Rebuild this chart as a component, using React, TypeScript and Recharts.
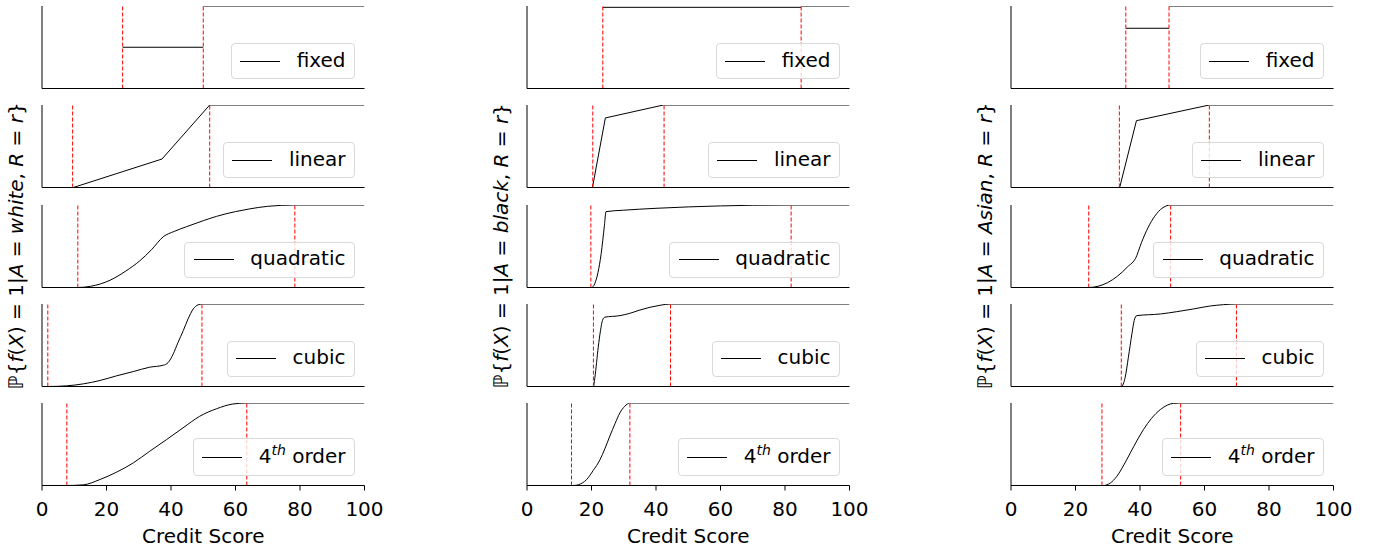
import React from 'react';
import { LineChart, Line, XAxis, YAxis, ReferenceLine, Label } from 'recharts';

const FONT = '"DejaVu Sans", Verdana, sans-serif';

const groups = ['white', 'black', 'Asian'];
const methods = ['fixed', 'linear', 'quadratic', 'cubic', '4th order'];
const xTicks = [0, 20, 40, 60, 80, 100];

// [credit score, probability]; null breaks the line
const whiteFixed = [[0, 0], [25, 0], [25, null], [25, 0.5], [50, 0.5], [50, null], [50, 1], [100, 1]];
const whiteLinear = [[0, 0], [9.7, 0], [37.2, 0.345], [52, 1], [100, 1]];
const whiteQuadratic = [[0, 0], [11.1, 0], [15, 0.014], [21.1, 0.088], [26, 0.2], [30.3, 0.323], [34, 0.46], [37.6, 0.615], [41, 0.68], [44.8, 0.737], [50, 0.81], [54.1, 0.862], [60, 0.92], [64.4, 0.953], [70, 0.984], [78.4, 1], [100, 1]];
const whiteCubic = [[0, 0], [1.8, 0], [7.6, 0.008], [12.8, 0.032], [18, 0.073], [23.1, 0.129], [28.3, 0.181], [33.4, 0.234], [37.6, 0.258], [39.1, 0.29], [40.7, 0.395], [42.2, 0.536], [43.8, 0.677], [45.3, 0.82], [46.9, 0.94], [48.4, 0.99], [49.6, 1], [100, 1]];
const whiteFourth = [[0, 0], [7.7, 0], [12.8, 0.008], [18, 0.073], [23.1, 0.161], [28.3, 0.274], [33.4, 0.415], [38.6, 0.556], [43.7, 0.698], [48.9, 0.839], [54.1, 0.93], [59.2, 0.988], [63.5, 1], [100, 1]];

const blackFixed = [[0, 0], [23.5, 0], [23.5, null], [23.5, 0.984], [85, 0.984], [85, null], [85, 1], [100, 1]];
const blackLinear = [[0, 0], [20.3, 0], [24.3, 0.843], [42.3, 1], [100, 1]];
const blackQuadratic = [[0, 0], [20, 0], [21, 0.045], [22, 0.18], [23, 0.41], [24, 0.75], [24.5, 0.92], [30, 0.937], [40, 0.96], [50, 0.977], [60, 0.989], [70, 0.997], [82, 1], [100, 1]];
const blackCubic = [[0, 0], [20.6, 0], [21.05, 0.11], [22.1, 0.48], [22.8, 0.68], [23.4, 0.8], [24.1, 0.84], [28.8, 0.859], [31.9, 0.887], [35, 0.927], [38.1, 0.96], [41.2, 0.984], [44.5, 1], [100, 1]];
const blackFourth = [[0, 0], [14.5, 0], [16, 0.01], [18.5, 0.073], [20.5, 0.18], [22.6, 0.31], [24.2, 0.45], [25.7, 0.6], [27.3, 0.75], [28.8, 0.88], [30.3, 0.96], [31.9, 1], [100, 1]];

const asianFixed = [[0, 0], [35.6, 0], [35.6, null], [35.6, 0.73], [49, 0.73], [49, null], [49, 1], [100, 1]];
const asianLinear = [[0, 0], [33.7, 0], [38.9, 0.81], [61.5, 1], [100, 1]];
const asianQuadratic = [[0, 0], [24.1, 0], [27, 0.015], [30, 0.06], [33, 0.137], [36, 0.245], [39, 0.385], [40, 0.496], [41, 0.597], [42.1, 0.694], [44, 0.831], [46.3, 0.943], [48, 0.987], [49.5, 1], [100, 1]];
const asianCubic = [[0, 0], [34.2, 0], [35.4, 0.11], [36.4, 0.355], [37.5, 0.64], [38.2, 0.8], [39, 0.859], [46.3, 0.879], [51.4, 0.907], [56.6, 0.94], [61.8, 0.976], [65.9, 0.992], [69.9, 1], [100, 1]];
const asianFourth = [[0, 0], [28.7, 0], [30.8, 0.03], [32.8, 0.11], [35, 0.25], [37, 0.395], [39, 0.54], [41.1, 0.68], [43.5, 0.81], [46.3, 0.92], [48.5, 0.975], [50.4, 0.996], [52.6, 1], [100, 1]];

// red dashed thresholds per method
const whiteThresholds = [[25, 50], [9.5, 52], [11.1, 78.4], [1.8, 49.6], [7.7, 63.5]];
const blackThresholds = [[23.5, 85], [20.4, 42.5], [19.8, 81.9], [20.6, 44.5], [13.8, 31.9]];
const asianThresholds = [[35.6, 49], [33.6, 61.5], [24.1, 49.5], [34.2, 69.9], [28.2, 52.6]];

const curves = [
  [whiteFixed, whiteLinear, whiteQuadratic, whiteCubic, whiteFourth],
  [blackFixed, blackLinear, blackQuadratic, blackCubic, blackFourth],
  [asianFixed, asianLinear, asianQuadratic, asianCubic, asianFourth],
];
const thresholds = [whiteThresholds, blackThresholds, asianThresholds];
const curveTypes = ['linear', 'linear', 'monotone', 'monotone', 'monotone'];

// layout
const PLOT_LEFT = [42, 527, 1011];
const PLOT_W = 322.5;
const PLOT_H = 82.5;
const rowTop = (r: number) => 6 + 99.3 * r;

const toRows = (pts: (number | null)[][]) => pts.map(([x, y]) => ({ x, y }));

function LegendBox({ method, right, bottom }: { method: string; right: number; bottom: number }) {
  const isFourth = method === '4th order';
  return (
    <div
      style={{
        position: 'absolute',
        right,
        bottom,
        height: isFourth ? 38 : 36,
        display: 'flex',
        alignItems: 'center',
        padding: '0 8px 3px 8.5px',
        border: '1px solid #d9d9d9',
        borderRadius: 4,
        background: 'rgba(255,255,255,0.8)',
        boxSizing: 'border-box',
        fontFamily: FONT,
        fontSize: 20,
        color: '#000',
        whiteSpace: 'nowrap',
      }}
    >
      <div style={{ width: 40, height: 0, borderTop: '1px solid #000', marginRight: 16.5, marginTop: 3 }} />
      {isFourth ? (
        <span>
          4
          <span style={{ fontSize: 14, fontStyle: 'italic', position: 'relative', top: -8 }}>th</span> order
        </span>
      ) : (
        <span>{method}</span>
      )}
    </div>
  );
}

function Panel({ col, row }: { col: number; row: number }) {
  const isBottom = row === 4;
  const padT = 3;
  const padL = 24;
  const padR = 24;
  const top = rowTop(row);
  const axisH = isBottom ? 550 - (top + PLOT_H) : 8;
  const left = PLOT_LEFT[col] - padL;
  const top0 = top - padT;
  const width = PLOT_W + padL + padR;
  const height = padT + PLOT_H + axisH;
  const data = toRows(curves[col][row]);
  const thr = thresholds[col][row];
  return (
    <div style={{ position: 'absolute', left, top: top0, width, height }}>
      <LineChart width={width} height={height} data={data} margin={{ top: padT, left: padL, right: padR, bottom: 0 }}>
        <XAxis
          dataKey="x"
          type="number"
          domain={[0, 100]}
          ticks={xTicks}
          interval={0}
          height={axisH}
          tickSize={5}
          tickMargin={11}
          allowDataOverflow
          axisLine={{ stroke: '#000', strokeWidth: 1 }}
          tickLine={{ stroke: '#000', strokeWidth: 1 }}
          tick={isBottom ? { fill: '#000', fontSize: 20, fontFamily: FONT } : false}
        >
          {isBottom && (
            <Label
              value="Credit Score"
              position="insideBottom"
              offset={7}
              style={{ fontSize: 20, fontFamily: FONT, fill: '#000' }}
            />
          )}
        </XAxis>
        <YAxis hide type="number" domain={[0, 1]} allowDataOverflow />
        <ReferenceLine x={0} stroke="#000" strokeWidth={1} />
        <Line
          dataKey="y"
          type={curveTypes[row] as any}
          stroke="#000"
          strokeWidth={1}
          dot={false}
          activeDot={false}
          connectNulls={false}
          isAnimationActive={false}
        />
        {thr.map((t) => (
          <ReferenceLine key={t} x={t} stroke="#ff0000" strokeWidth={1} strokeDasharray="4 2" />
        ))}
      </LineChart>
      <LegendBox method={methods[row]} right={padR + 10} bottom={axisH + 9.5} />
    </div>
  );
}

function YLabel({ col }: { col: number }) {
  const cx = PLOT_LEFT[col] - 26;
  const cy = (rowTop(0) + rowTop(4) + PLOT_H) / 2;
  const it = { fontStyle: 'italic' as const };
  return (
    <svg width={60} height={550} style={{ position: 'absolute', left: cx - 30, top: 0 }}>
      <text
        x={30}
        y={cy}
        transform={`rotate(-90 30 ${cy})`}
        textAnchor="middle"
        dominantBaseline="central"
        style={{ fontFamily: FONT, fontSize: 20, fill: '#000' }}
      >
        ℙ{'{'}
        <tspan style={it}>f</tspan>(<tspan style={it}>X</tspan>) = 1|<tspan style={it}>A</tspan> ={' '}
        <tspan style={it}>{groups[col]}</tspan>, <tspan style={it}>R</tspan> = <tspan style={it}>r</tspan>
        {'}'}
      </text>
    </svg>
  );
}

export default function App() {
  return (
    <div style={{ position: 'absolute', left: 0, top: 0, width: 1380, height: 550, background: '#fff', overflow: 'hidden' }}>
      {groups.map((g, c) => (
        <React.Fragment key={g}>
          <YLabel col={c} />
          {methods.map((m, r) => (
            <Panel key={m} col={c} row={r} />
          ))}
        </React.Fragment>
      ))}
    </div>
  );
}
